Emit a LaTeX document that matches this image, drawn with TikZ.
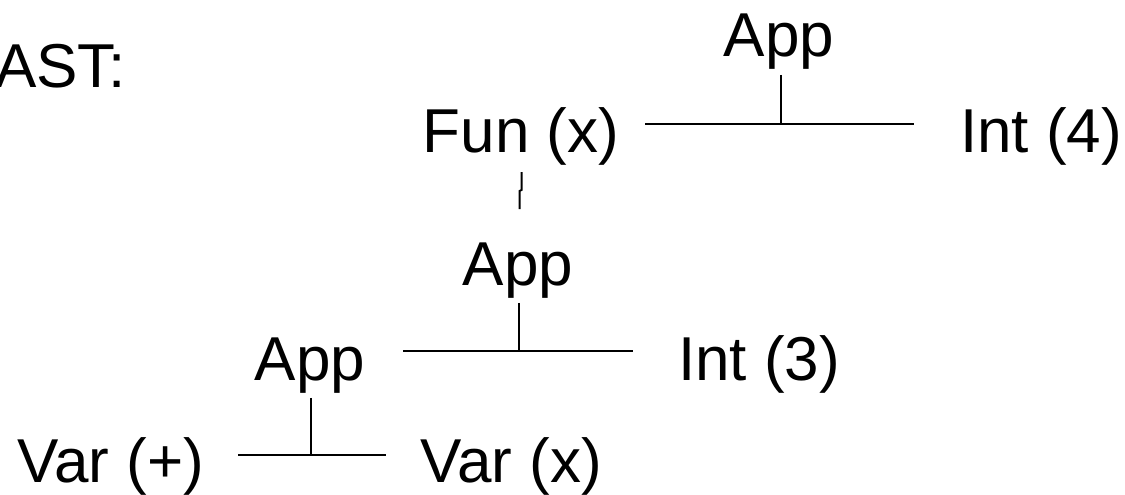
\documentclass[tikz,border=0pt]{standalone}
\usepackage{fontspec}
\setmainfont{Liberation Sans}
\usetikzlibrary{calc}
\begin{document}
\begin{tikzpicture}[x=1pt,y=-1pt,
  lbl/.style={inner sep=0pt,outer sep=5pt,anchor=base,font=\fontsize{62}{70}\selectfont},
  edge/.style={line width=2pt,black}]
\path[use as bounding box] (0,0) rectangle (1125,495);
% labels
\node[lbl,anchor=base east] (ast) at (131,88) {AST:};
\node[lbl] (app1) at (779,57) {App};
\node[lbl] (fun) at (521,152) {Fun (x)};
\node[lbl] (int4) at (1041,152) {Int (4)};
\node[lbl] (app2) at (518,285) {App};
\node[lbl] (app3) at (310,380) {App};
\node[lbl] (int3) at (759,380) {Int (3)};
\node[lbl] (varp) at (111,482) {Var (+)};
\node[lbl] (varx) at (511,482) {Var (x)};
% junctions and bar ends
\coordinate (j1) at (781,124);
\coordinate (b1l) at (645,124);
\coordinate (b1r) at (914,124);
\coordinate (j2) at (519,351);
\coordinate (b2l) at (403,351);
\coordinate (b2r) at (633,351);
\coordinate (j3) at (311,455);
\coordinate (b3l) at (238,455);
\coordinate (b3r) at (386,455);
\coordinate (k1) at (521.5,172);
\coordinate (k2) at (519.5,209);
% connectors
\draw[edge] (j1 |- app1.south) -- (j1);
\draw[edge] (b1l) -- (b1r);
\draw[edge] (j2 |- app2.south) -- (j2);
\draw[edge] (b2l) -- (b2r);
\draw[edge] (j3 |- app3.south) -- (j3);
\draw[edge] (b3l) -- (b3r);
\draw[edge] (k1) -- (521.5,190) -- (519.5,191) -- (k2);
\end{tikzpicture}
\end{document}
